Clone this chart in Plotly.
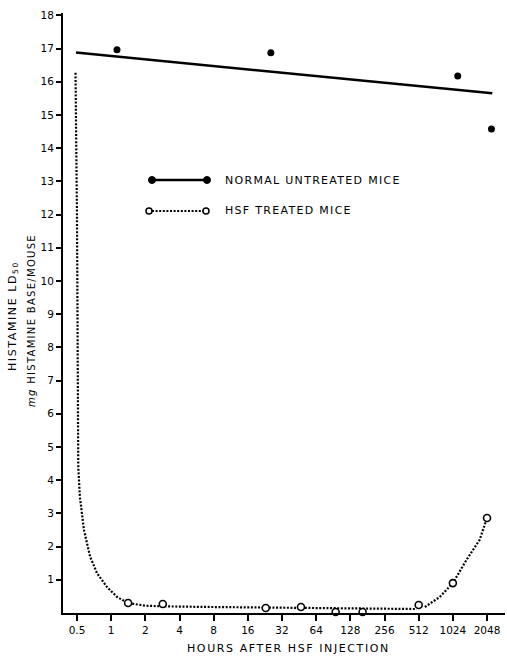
import math
import plotly.graph_objects as go

# ---- data ----
x_tick_vals = [0.5, 1, 2, 4, 8, 16, 32, 64, 128, 256, 512, 1024, 2048]
x_tick_text = ["0.5", "1", "2", "4", "8", "16", "32", "64", "128", "256", "512", "1024", "2048"]
y_tick_vals = list(range(1, 19))

normal_hours = [1.125, 25.5, 1130, 2240]
normal_ld50 = [16.96, 16.87, 16.17, 14.58]
normal_fit_hours = [0.49, 2280]
normal_fit_ld50 = [16.88, 15.65]

hsf_hours = [1.41, 2.85, 23, 47, 95, 164, 512, 1024, 2048]
hsf_ld50 = [0.30, 0.27, 0.15, 0.18, 0.03, 0.03, 0.24, 0.90, 2.86]
hsf_curve1_hours = [0.485, 0.50, 0.513, 0.53, 0.576, 0.652, 0.75, 0.92, 1.13, 1.41, 2.0, 2.85, 8, 24, 48, 96, 200, 490]
hsf_curve1_ld50 = [16.27, 11.9, 4.4, 3.5, 2.5, 1.7, 1.2, 0.78, 0.48, 0.30, 0.22, 0.20, 0.18, 0.16, 0.16, 0.13, 0.12, 0.12]
hsf_curve2_hours = [580, 783, 1024, 1350, 1760, 2048]
hsf_curve2_ld50 = [0.18, 0.48, 0.90, 1.6, 2.2, 2.86]

legend_labels = ["NORMAL UNTREATED MICE", "HSF TREATED MICE"]
x_title = "HOURS AFTER HSF INJECTION"
y_title_1 = "HISTAMINE LD<sub>50</sub>"
y_title_2 = "<i>mg</i> HISTAMINE BASE/MOUSE"

FONT = "DejaVu Sans"
DOT = "2px,1.6px"

def spaced(t, ls):
    return f'<span style="letter-spacing:{ls}px">{t}</span>'

fig = go.Figure()
fig.add_trace(go.Scatter(x=normal_fit_hours, y=normal_fit_ld50, mode="lines",
                         line=dict(color="black", width=2.5), hoverinfo="skip"))
fig.add_trace(go.Scatter(x=normal_hours, y=normal_ld50, mode="markers",
                         marker=dict(color="black", size=7), cliponaxis=False))
fig.add_trace(go.Scatter(x=hsf_curve1_hours, y=hsf_curve1_ld50, mode="lines",
                         line=dict(color="black", width=2.2, dash=DOT), hoverinfo="skip"))
fig.add_trace(go.Scatter(x=hsf_curve2_hours, y=hsf_curve2_ld50, mode="lines",
                         line=dict(color="black", width=2.2, dash=DOT), hoverinfo="skip"))
fig.add_trace(go.Scatter(x=hsf_hours, y=hsf_ld50, mode="markers", cliponaxis=False,
                         marker=dict(color="white", size=7, line=dict(color="black", width=1.6))))

L, R, T, B = 63, 2, 13, 44
W, H = 507, 657
PW, PH = W - L - R, H - T - B
PX_PER_DOUBLING = 34.17
X0_PX = 77  # pixel of the 0.5 tick

def px_x(px):
    return (px - L) / PW

def px_y(py):
    return (H - B - py) / PH

lo = math.log10(0.5) + (L - X0_PX) / PX_PER_DOUBLING * math.log10(2)
hi = math.log10(0.5) + (W - R - X0_PX) / PX_PER_DOUBLING * math.log10(2)

shapes = []
# legend glyphs
y1, y2 = px_y(180), px_y(211)
shapes.append(dict(type="line", xref="paper", yref="paper", x0=px_x(152), x1=px_x(207), y0=y1, y1=y1,
                   line=dict(color="black", width=2.5)))
for xx in (152, 207):
    shapes.append(dict(type="circle", xref="paper", yref="paper", xsizemode="pixel", ysizemode="pixel",
                       xanchor=px_x(xx), yanchor=y1, x0=-3.5, x1=3.5, y0=-3.5, y1=3.5,
                       fillcolor="black", line=dict(color="black", width=1)))
shapes.append(dict(type="line", xref="paper", yref="paper", x0=px_x(152), x1=px_x(203), y0=y2, y1=y2,
                   line=dict(color="black", width=2.2, dash=DOT)))
for xx in (149, 206):
    shapes.append(dict(type="circle", xref="paper", yref="paper", xsizemode="pixel", ysizemode="pixel",
                       xanchor=px_x(xx), yanchor=y2, x0=-3, x1=3, y0=-3, y1=3,
                       fillcolor="white", line=dict(color="black", width=1.5)))

annotations = [
    dict(text=spaced(legend_labels[0], 1.3), x=px_x(223), y=y1, xref="paper", yref="paper",
         xanchor="left", yanchor="middle", showarrow=False, font=dict(family=FONT, size=11, color="black")),
    dict(text=spaced(legend_labels[1], 1.3), x=px_x(223), y=y2, xref="paper", yref="paper",
         xanchor="left", yanchor="middle", showarrow=False, font=dict(family=FONT, size=11, color="black")),
    dict(text=spaced(x_title, 1.6), x=px_x(288), y=px_y(648), xref="paper", yref="paper",
         xanchor="center", yanchor="middle", showarrow=False, font=dict(family=FONT, size=11, color="black")),
    dict(text=spaced(y_title_1, 1.6), x=px_x(13), y=px_y(316), xref="paper", yref="paper", textangle=-90,
         xanchor="center", yanchor="middle", showarrow=False, font=dict(family=FONT, size=11, color="black")),
    dict(text=spaced(y_title_2, 1.3), x=px_x(31), y=px_y(321), xref="paper", yref="paper", textangle=-90,
         xanchor="center", yanchor="middle", showarrow=False, font=dict(family=FONT, size=10, color="black")),
]

fig.update_layout(
    width=W, height=H, margin=dict(l=L, r=R, t=T, b=B),
    paper_bgcolor="white", plot_bgcolor="white", showlegend=False,
    shapes=shapes, annotations=annotations,
    xaxis=dict(type="log", range=[lo, hi],
               tickvals=x_tick_vals, ticktext=x_tick_text, ticks="outside", ticklen=6, tickwidth=1.5,
               tickcolor="black", showline=True, linecolor="black", linewidth=2, showgrid=False,
               zeroline=False, tickfont=dict(family=FONT, size=10.5, color="black")),
    yaxis=dict(range=[0, 18.07], tickvals=y_tick_vals, ticks="outside", ticklen=5, tickwidth=1.5,
               tickcolor="black", showline=True, linecolor="black", linewidth=2, showgrid=False,
               zeroline=False, tickfont=dict(family=FONT, size=10.5, color="black")),
)

fig.write_html("out.html", config={"displayModeBar": False},
               post_script="document.body.style.margin='0';document.body.style.overflow='hidden';")
